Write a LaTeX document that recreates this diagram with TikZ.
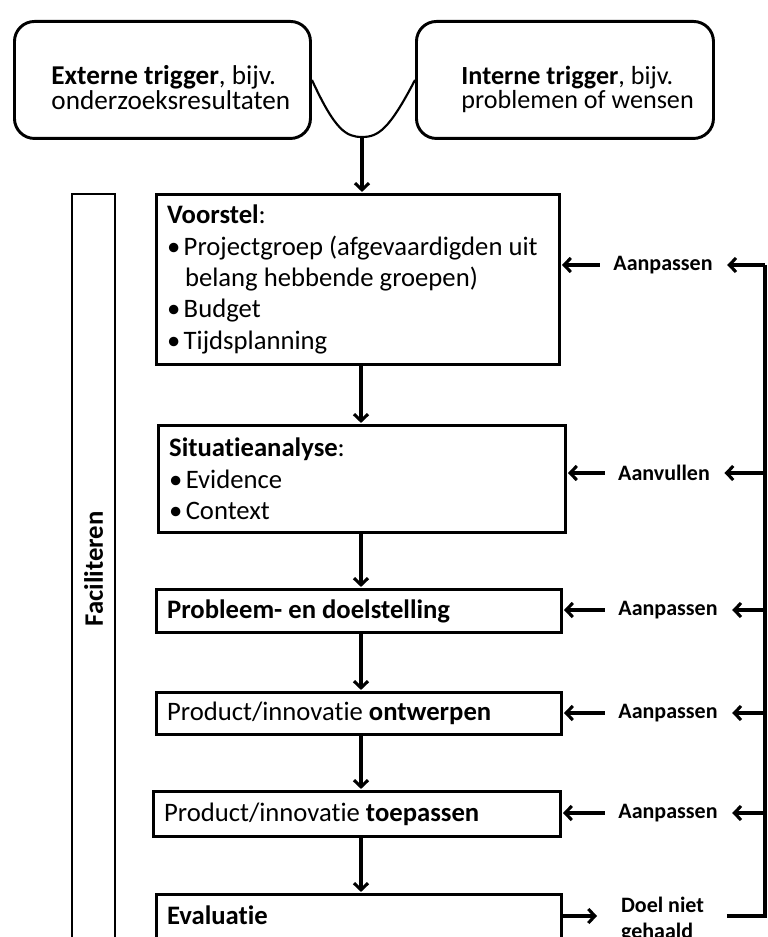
\documentclass[tikz,border=0pt]{standalone}
\usepackage{fontspec}
\setmainfont{Carlito}[Ligatures=NoCommon]
\usetikzlibrary{arrows.meta}
\begin{document}
\begin{tikzpicture}[x=0.75pt,y=-0.75pt,
  execute at begin node={\spaceskip=0pt\xspaceskip=0pt\hyphenpenalty=10000\relax},
  box/.style={draw,line width=2.2pt,rectangle,anchor=north west,align=left,inner xsep=8pt,
    font=\fontsize{20}{23.6}\selectfont},
  trig/.style={draw,line width=2.2pt,rounded corners=15pt,anchor=north west,align=left,
    inner ysep=0pt,text height=47.25pt,text depth=40.5pt,
    font=\fontsize{20.4}{16.5}\selectfont},
  lab/.style={font=\fontsize{16.5}{19.5}\selectfont\bfseries,inner xsep=10pt,align=left},
  arr/.style={line width=2.3pt,-{Straight Barb[length=5pt,width=10.5pt]},shorten >=0.8pt},
  conn/.style={line width=2.3pt}]
\useasboundingbox (0,0) rectangle (767,937);
\clip (0,0) rectangle (767,937);
\fill[white] (0,0) rectangle (767,937);

% trigger boxes
\node[trig,minimum width=222pt,text width=166.5pt] (ext) at (13,20)
  {\mbox{\textbf{Externe trigger}, bijv.}\\\mbox{onderzoeksresultaten}};
\node[trig,minimum width=222.75pt,text width=155.25pt,
  font=\fontsize{19.6}{16.5}\selectfont] (int) at (415,20)
  {\mbox{\textbf{Interne trigger}, bijv.}\\\mbox{problemen of wensen}};
\coordinate (vb) at (362,137);
\draw[line width=1.6pt] (ext.east) .. controls (335,130) and (346,137) .. (vb)
  .. controls (378,137) and (389,130) .. (int.west);

% process boxes
\node[box,text width=286.25pt,minimum height=127.5pt] (voor) at (155,193)
  {\textbf{Voorstel}:\\
   •\kern2.5pt Projectgroep (afgevaardigden uit\\
   \hphantom{•}\kern3.5pt belang hebbende groepen)\\
   •\kern2.5pt Budget\\
   •\kern2.5pt Tijdsplanning};
\node[box,text width=289.25pt,minimum height=80.25pt] (sit) at (157,424)
  {\textbf{Situatieanalyse}:\\
   •\kern2.5pt Evidence\\
   •\kern2.5pt Context};
\node[box,text width=287.75pt,minimum height=32.25pt] (prob) at (155,588)
  {\textbf{Probleem- en doelstelling}};
\node[box,text width=287.75pt,minimum height=31.5pt] (ontw) at (155,691)
  {Product/innovatie \textbf{ontwerpen}};
\node[box,text width=289.25pt,minimum height=33.75pt] (toep) at (152,790)
  {Product/innovatie \textbf{toepassen}};
\node[box,text width=287.75pt,inner ysep=8.25pt,text depth=60pt] (eval) at (155,893)
  {\textbf{Evaluatie}};

% facilitate column
\node[draw,line width=2.2pt,rotate=90,minimum width=562.5pt,minimum height=32.25pt,
  font=\fontsize{20}{24}\selectfont\bfseries] (fac) at (93.5,569) {Faciliteren};

% main flow arrows
\coordinate (cx) at (361,0);
\draw[arr] (vb) -- (vb |- voor.north);
\draw[arr] (voor.south -| cx) -- (sit.north -| cx);
\draw[arr] (sit.south -| cx) -- (prob.north -| cx);
\draw[arr] (prob.south -| cx) -- (ontw.north -| cx);
\draw[arr] (ontw.south -| cx) -- (toep.north -| cx);
\draw[arr] (toep.south -| cx) -- (eval.north -| cx);

% feedback labels
\node[lab] (l1) at (663,265) {Aanpassen};
\node[lab] (l2) at (664,473) {Aanvullen};
\node[lab] (l3) at (668,610) {Aanpassen};
\node[lab] (l4) at (668,713) {Aanpassen};
\node[lab] (l5) at (668,813) {Aanpassen};
\node[lab,inner xsep=17pt] (l6) at (662.5,920) {Doel niet\\gehaald};

\coordinate (rt) at (765,265);
\coordinate (rb) at (765,916);
\draw[conn] (l6.east |- rb) -- (rb) -- (rt);
\draw[arr] (rb -| eval.east) -- (rb -| l6.west);

\foreach \l/\b in {l1/voor,l2/sit,l3/prob,l4/ontw,l5/toep}{
  \draw[arr] (\l.east -| rt) -- (\l.east);
  \draw[arr] (\l.west) -- (\l.west -| \b.east);
}
\end{tikzpicture}
\end{document}
